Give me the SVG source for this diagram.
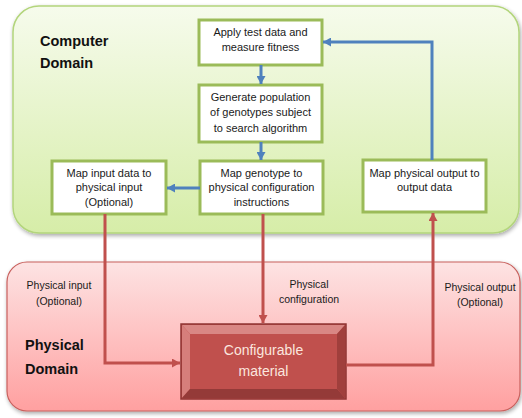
<svg xmlns="http://www.w3.org/2000/svg" width="522" height="418" viewBox="0 0 522 418">
<style>
.box{fill:#ffffff;stroke:#9bbb59;stroke-width:3}
.t{font-family:"Liberation Sans",Arial,sans-serif;font-size:11px;fill:#1a1a1a;text-anchor:middle}
.lbl{font-family:"Liberation Sans",Arial,sans-serif;font-size:10.5px;fill:#1a1a1a;text-anchor:middle}
.dom{font-family:"Liberation Sans",Arial,sans-serif;font-size:14.5px;font-weight:bold;fill:#111111}
.blue{fill:none;stroke:#4f81bd;stroke-width:3}
.red{fill:none;stroke:#c0504d;stroke-width:3}
</style>
<defs>
<linearGradient id="gG" x1="0" y1="0" x2="0" y2="1">
<stop offset="0" stop-color="#f6fbec"/>
<stop offset="1" stop-color="#d6eda8"/>
</linearGradient>
<linearGradient id="gR" x1="0" y1="0" x2="0" y2="1">
<stop offset="0" stop-color="#fde3e3"/>
<stop offset="1" stop-color="#ffa0a0"/>
</linearGradient>
<filter id="sh" x="-5%" y="-5%" width="110%" height="115%">
<feGaussianBlur in="SourceAlpha" stdDeviation="2"/>
<feOffset dx="1" dy="2"/>
<feComponentTransfer><feFuncA type="linear" slope="0.35"/></feComponentTransfer>
<feMerge><feMergeNode/><feMergeNode in="SourceGraphic"/></feMerge>
</filter>
<marker id="aB" markerUnits="userSpaceOnUse" markerWidth="9" markerHeight="9" refX="8" refY="4.5" orient="auto">
<path d="M0,0 L8,4.5 L0,9 z" fill="#4f81bd"/>
</marker>
<marker id="aR" markerUnits="userSpaceOnUse" markerWidth="9" markerHeight="9" refX="8" refY="4.5" orient="auto">
<path d="M0,0 L8,4.5 L0,9 z" fill="#c0504d"/>
</marker>
</defs>

<g id="computer-domain">
<rect x="13" y="6" width="506" height="227" rx="26" fill="url(#gG)" stroke="#b3d57c" stroke-width="1.5" filter="url(#sh)"/>
<text class="dom" x="40" y="46">Computer</text>
<text class="dom" x="40" y="68">Domain</text>
</g>

<g id="physical-domain">
<rect x="7" y="262" width="513" height="149" rx="20" fill="url(#gR)" stroke="#c8605d" stroke-width="1.2" filter="url(#sh)"/>
<text class="dom" x="25" y="350">Physical</text>
<text class="dom" x="25" y="374">Domain</text>
</g>

<g id="apply-test">
<rect class="box" x="199" y="20" width="123" height="45"/>
<text class="t" x="260.5" y="36">Apply test data and</text>
<text class="t" x="260.5" y="51">measure fitness</text>
</g>

<g id="generate-population">
<rect class="box" x="199" y="85" width="123" height="57"/>
<text class="t" x="260.5" y="101">Generate population</text>
<text class="t" x="260.5" y="116">of genotypes subject</text>
<text class="t" x="260.5" y="132">to search algorithm</text>
</g>

<g id="map-input">
<rect class="box" x="52" y="161" width="114" height="53"/>
<text class="t" x="109" y="177">Map input data to</text>
<text class="t" x="109" y="191">physical input</text>
<text class="t" x="109" y="206">(Optional)</text>
</g>

<g id="map-genotype">
<rect class="box" x="200" y="161" width="123" height="53"/>
<text class="t" x="261.5" y="177">Map genotype to</text>
<text class="t" x="261.5" y="191">physical configuration</text>
<text class="t" x="261.5" y="206">instructions</text>
</g>

<g id="map-output">
<rect class="box" x="363" y="160" width="123" height="52"/>
<text class="t" x="424.5" y="177">Map physical output to</text>
<text class="t" x="424.5" y="191">output data</text>
</g>

<g id="configurable-material">
<rect x="181" y="324" width="165" height="75" fill="#c0504d" stroke="#8e3533" stroke-width="1.5"/>
<polygon points="182,325 345,325 337,334 190,334" fill="#d98784"/>
<polygon points="182,325 190,334 190,389 182,398" fill="#d67e7b"/>
<polygon points="182,398 190,389 337,389 345,398" fill="#943a38"/>
<polygon points="345,325 345,398 337,389 337,334" fill="#a03f3c"/>
<rect x="190" y="334" width="147" height="55" fill="#c0504d"/>
<text x="263.5" y="355" font-family="'Liberation Sans',Arial,sans-serif" font-size="14px" fill="#fbe6df" text-anchor="middle">Configurable</text>
<text x="263.5" y="376" font-family="'Liberation Sans',Arial,sans-serif" font-size="14px" fill="#fbe6df" text-anchor="middle">material</text>
</g>

<g id="connectors">
<path class="blue" d="M261,65 L261,84" marker-end="url(#aB)"/>
<path class="blue" d="M261,142 L261,160" marker-end="url(#aB)"/>
<path class="blue" d="M200,188 L167,188" marker-end="url(#aB)"/>
<path class="blue" d="M432,160 L432,42 L323,42" marker-end="url(#aB)"/>
<path class="red" d="M105,214 L105,363 L180,363" marker-end="url(#aR)"/>
<path class="red" d="M263,214 L263,323" marker-end="url(#aR)"/>
<path class="red" d="M346,365 L433,365 L433,213" marker-end="url(#aR)"/>
<text class="lbl" x="59" y="289">Physical input</text>
<text class="lbl" x="59" y="305">(Optional)</text>
<text class="lbl" x="309" y="288">Physical</text>
<text class="lbl" x="309" y="303">configuration</text>
<text class="lbl" x="480" y="291">Physical output</text>
<text class="lbl" x="480" y="306">(Optional)</text>
</g>
</svg>
